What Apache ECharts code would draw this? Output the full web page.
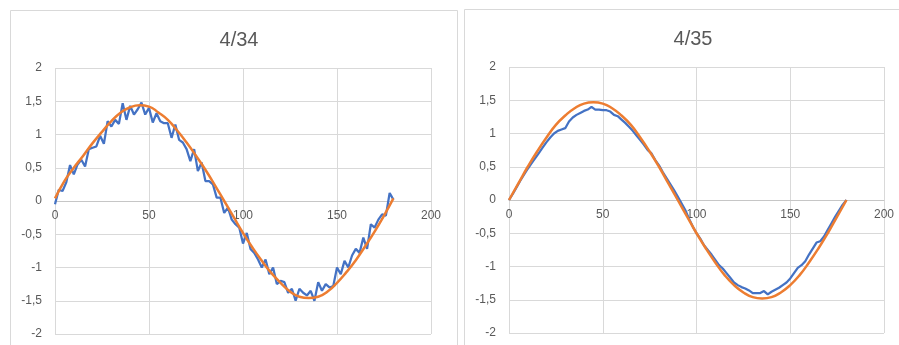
<!DOCTYPE html>
<html>
<head>
<meta charset="utf-8">
<script src="https://cdn.jsdelivr.net/npm/echarts@6/dist/echarts.min.js"></script>
<style>
html,body{margin:0;padding:0;background:#fff;}
#c{width:899px;height:345px;}
</style>
</head>
<body>
<div id="c"></div>
<script>
const titles = ["4/34", "4/35"];
const xTicks = [0, 50, 100, 150, 200];
const yTicks = [-2, -1.5, -1, -0.5, 0, 0.5, 1, 1.5, 2];

const leftBlueX = [0,2,4,6,8,10,12,14,16,18,20,22,24,26,28,30,32,34,36,38,40,42,44,46,48,50,52,54,56,58,60,62,64,66,68,70,72,74,76,78,80,82,84,86,88,90,92,94,96,98,100,102,104,106,108,110,112,114,116,118,120,122,124,126,128,130,132,134,136,138,140,142,144,146,148,150,152,154,156,158,160,162,164,166,168,170,172,174,176,178,180];
const leftBlueY = [-0.05,0.17,0.15,0.28,0.54,0.40,0.55,0.62,0.52,0.78,0.80,0.82,0.98,0.86,1.20,1.12,1.22,1.16,1.47,1.22,1.43,1.30,1.38,1.48,1.30,1.40,1.18,1.32,1.20,1.17,1.17,0.95,1.15,0.92,0.88,0.78,0.60,0.78,0.45,0.58,0.30,0.30,0.25,0.05,0.05,-0.18,-0.10,-0.28,-0.35,-0.40,-0.64,-0.48,-0.72,-0.78,-0.88,-1.00,-0.88,-1.10,-1.00,-1.25,-1.20,-1.22,-1.38,-1.32,-1.50,-1.32,-1.38,-1.42,-1.35,-1.50,-1.22,-1.35,-1.25,-1.30,-1.28,-1.00,-1.10,-0.90,-1.00,-0.82,-0.72,-0.78,-0.55,-0.72,-0.35,-0.40,-0.28,-0.20,-0.22,0.12,0.02];

const leftOrangeX = [0,5,10,15,20,25,30,35,40,45,50,55,60,65,70,75,80,85,90,95,100,105,110,115,120,125,130,135,140,145,150,155,160,165,170,175,180];
const leftOrangeY = [0.04,0.30,0.50,0.68,0.87,1.04,1.20,1.33,1.41,1.44,1.42,1.33,1.22,1.06,0.88,0.68,0.47,0.24,0.00,-0.24,-0.48,-0.70,-0.90,-1.08,-1.23,-1.36,-1.44,-1.46,-1.44,-1.36,-1.23,-1.07,-0.89,-0.68,-0.46,-0.22,0.04];

const rightBlueX = [0,2,4,6,8,10,12,14,16,18,20,22,24,26,28,30,32,34,36,38,40,42,44,46,48,50,52,54,56,58,60,62,64,66,68,70,72,74,76,78,80,82,84,86,88,90,92,94,96,98,100,102,104,106,108,110,112,114,116,118,120,122,124,126,128,130,132,134,136,138,140,142,144,146,148,150,152,154,156,158,160,162,164,166,168,170,172,174,176,178,180];
const rightBlueY = [0.00,0.09,0.19,0.29,0.38,0.47,0.55,0.63,0.71,0.79,0.87,0.94,1.00,1.04,1.06,1.08,1.18,1.24,1.28,1.31,1.34,1.36,1.40,1.36,1.36,1.35,1.35,1.33,1.28,1.26,1.21,1.16,1.10,1.04,0.97,0.90,0.83,0.75,0.70,0.60,0.52,0.42,0.33,0.24,0.15,0.05,-0.05,-0.15,-0.28,-0.40,-0.50,-0.58,-0.68,-0.75,-0.82,-0.90,-0.98,-1.03,-1.10,-1.17,-1.24,-1.28,-1.31,-1.33,-1.36,-1.40,-1.40,-1.40,-1.37,-1.42,-1.38,-1.35,-1.32,-1.28,-1.24,-1.18,-1.10,-1.02,-0.98,-0.92,-0.82,-0.73,-0.64,-0.62,-0.55,-0.45,-0.35,-0.25,-0.16,-0.07,0.00];

const rightOrangeX = [0,5,10,15,20,25,30,35,40,45,50,55,60,65,70,75,80,85,90,95,100,105,110,115,120,125,130,135,140,145,150,155,160,165,170,175,180];
const rightOrangeY = [0,0.25,0.50,0.73,0.94,1.13,1.27,1.38,1.45,1.47,1.45,1.38,1.27,1.13,0.94,0.73,0.50,0.25,0.00,-0.25,-0.50,-0.73,-0.94,-1.13,-1.28,-1.39,-1.46,-1.48,-1.46,-1.39,-1.28,-1.13,-0.94,-0.73,-0.50,-0.25,0.00];

function pairs(xs, ys){ return xs.map((x,i)=>[x, ys[i]]); }

const font = '"Liberation Sans", "Open Sans", sans-serif';
const textColor = '#595959';
const gridColor = '#d9d9d9';

const grids = [
  {left: 55, right: 468, top: 68, bottom: 11},
  {left: 509, right: 15, top: 67, bottom: 12}
];
const H = 345;

function xAxisCfg(idx){
  const g = grids[idx];
  const h = H - g.top - g.bottom;
  const yMin = yTicks[0], yMax = yTicks[yTicks.length-1];
  // shift the horizontal axis (line + labels) up to the y = 0 level
  const off = -h * (0 - yMin) / (yMax - yMin);
  return {
    gridIndex: idx, type: 'value', min: xTicks[0], max: xTicks[xTicks.length-1], interval: 50,
    position: 'bottom', offset: off,
    axisLine: {show: true, onZero: false, lineStyle: {color: '#c6c6c6', width: 1}},
    axisTick: {show: false},
    axisLabel: {color: textColor, fontSize: 12, fontFamily: font, margin: 9},
    splitLine: {show: true, lineStyle: {color: gridColor, width: 1}}
  };
}
function yAxisCfg(idx){
  return {
    gridIndex: idx, type: 'value', min: yTicks[0], max: yTicks[yTicks.length-1], interval: 0.5,
    axisLine: {show: false}, axisTick: {show: false},
    axisLabel: {color: textColor, fontSize: 12, fontFamily: font, margin: 13,
      formatter: v => String(v).replace('.', ',')},
    splitLine: {show: true, lineStyle: {color: gridColor, width: 1}}
  };
}

const chart = echarts.init(document.getElementById('c'), null, {renderer: 'canvas'});
chart.setOption({
  backgroundColor: '#ffffff',
  animation: false,
  graphic: [
    {type: 'rect', shape: {x: 10.5, y: 10.5, width: 447, height: 345}, style: {fill: 'none', stroke: '#d9d9d9', lineWidth: 1}, z: -1},
    {type: 'rect', shape: {x: 464.5, y: 9.5, width: 449, height: 345}, style: {fill: 'none', stroke: '#d9d9d9', lineWidth: 1}, z: -1}
  ],
  title: [
    {text: titles[0], left: 234, top: 25, textAlign: 'center', textStyle: {color: textColor, fontSize: 20, fontWeight: 'normal', fontFamily: font}},
    {text: titles[1], left: 688, top: 24, textAlign: 'center', textStyle: {color: textColor, fontSize: 20, fontWeight: 'normal', fontFamily: font}}
  ],
  grid: grids.map(g => Object.assign({containLabel: false, outerBoundsMode: 'none'}, g)),
  xAxis: [xAxisCfg(0), xAxisCfg(1)],
  yAxis: [yAxisCfg(0), yAxisCfg(1)],
  series: [
    {type: 'line', xAxisIndex: 0, yAxisIndex: 0, data: pairs(leftBlueX, leftBlueY), showSymbol: false, lineStyle: {color: '#4472C4', width: 2.25}, z: 2},
    {type: 'line', xAxisIndex: 0, yAxisIndex: 0, data: pairs(leftOrangeX, leftOrangeY), smooth: true, showSymbol: false, lineStyle: {color: '#ED7D31', width: 2.5}, z: 3},
    {type: 'line', xAxisIndex: 1, yAxisIndex: 1, data: pairs(rightBlueX, rightBlueY), showSymbol: false, lineStyle: {color: '#4472C4', width: 2.25}, z: 2},
    {type: 'line', xAxisIndex: 1, yAxisIndex: 1, data: pairs(rightOrangeX, rightOrangeY), smooth: true, showSymbol: false, lineStyle: {color: '#ED7D31', width: 2.5}, z: 3}
  ]
});
</script>
</body>
</html>
